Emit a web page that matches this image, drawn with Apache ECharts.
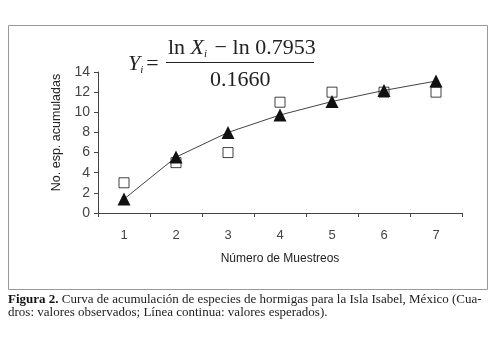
<!DOCTYPE html>
<html><head><meta charset="utf-8">
<script src="https://cdn.jsdelivr.net/npm/echarts@6/dist/echarts.min.js"></script>
<style>html,body{margin:0;padding:0;background:#fff}#c{width:499px;height:345px}</style>
</head><body><div id="c"></div>
<script>
const categories = ['1','2','3','4','5','6','7'];
const observed = [3, 5, 6, 11, 12, 12, 12];
const expected = [1.38, 5.55, 8.0, 9.73, 11.07, 12.17, 13.1];
const yTicks = {min: 0, max: 14, interval: 2};

const chart = echarts.init(document.getElementById('c'), null, {renderer: 'canvas'});
const serif = '"Liberation Serif","Times New Roman",serif';
const sans = 'Arial, "Liberation Sans"';
chart.setOption({
  animation: false,
  backgroundColor: '#fff',
  grid: {left: 98, top: 72, right: 37, bottom: 132, containLabel: false},
  xAxis: {
    type: 'category', data: categories, boundaryGap: true,
    name: 'Número de Muestreos', nameLocation: 'middle', nameGap: 40,
    nameTextStyle: {fontFamily: sans, fontSize: 12, color: '#222'},
    axisLine: {lineStyle: {color: '#444', width: 1}},
    axisTick: {show: true, length: 4, inside: false, lineStyle: {color: '#444'}},
    axisLabel: {fontFamily: sans, fontSize: 13, color: '#444', margin: 16}
  },
  yAxis: {
    type: 'value', min: yTicks.min, max: yTicks.max, interval: yTicks.interval,
    name: 'No. esp. acumuladas', nameLocation: 'middle', nameGap: 30, nameRotate: 90,
    nameTextStyle: {fontFamily: sans, fontSize: 12.5, color: '#222', padding: [0, 0, 0, 20]},
    axisLine: {show: true, lineStyle: {color: '#444', width: 1}},
    axisTick: {show: true, length: 4, lineStyle: {color: '#444'}},
    splitLine: {show: false},
    axisLabel: {fontFamily: sans, fontSize: 14, color: '#444', margin: 8}
  },
  series: [
    {type: 'line', name: 'esperados', data: expected, symbol: 'triangle', symbolSize: 13,
     itemStyle: {color: '#111'}, lineStyle: {color: '#444', width: 1}, z: 3},
    {type: 'scatter', name: 'observados', data: observed, symbol: 'rect', symbolSize: 10,
     itemStyle: {color: '#fff', borderColor: '#111', borderWidth: 1}, z: 2}
  ],
  graphic: [
    {type: 'rect', shape: {x: 8.5, y: 25.5, width: 479, height: 264}, style: {fill: 'none', stroke: '#999', lineWidth: 1}, z: -1},
    {type: 'text', left: 128, top: 53, style: {text: '{i|Y}{s|i}{e|=}', rich: {
      i: {fontFamily: serif, fontSize: 22, fontStyle: 'italic', fill: '#222'},
      s: {fontFamily: serif, fontSize: 11, fontStyle: 'italic', fill: '#222', verticalAlign: 'bottom', padding: [12, 3, 0, 0]},
      e: {fontFamily: serif, fontSize: 22, fill: '#222'}
    }, fontFamily: serif, fontSize: 22, fill: '#222'}},
    {type: 'text', left: 168, top: 37, style: {text: 'ln {i|X}{s|i} − ln 0.7953', rich: {
      i: {fontFamily: serif, fontSize: 22, fontStyle: 'italic', fill: '#222'},
      s: {fontFamily: serif, fontSize: 11, fontStyle: 'italic', fill: '#222', verticalAlign: 'bottom', padding: [12, 2, 0, 0]}
    }, fontFamily: serif, fontSize: 22, fill: '#222'}},
    {type: 'line', shape: {x1: 166, y1: 62.5, x2: 314, y2: 62.5}, style: {stroke: '#222', lineWidth: 1}},
    {type: 'text', left: 210, top: 69, style: {text: '0.1660', fontFamily: serif, fontSize: 22, fill: '#222'}},
    {type: 'text', left: 8, top: 293, style: {text: '{b|Figura 2.} Curva de acumulación de especies de hormigas para la Isla Isabel, México (Cua-\ndros: valores observados; Línea continua: valores esperados).', rich: {
      b: {fontFamily: serif, fontSize: 13, fontWeight: 'bold', fill: '#111'}
    }, fontFamily: serif, fontSize: 13, fill: '#222', lineHeight: 13}}
  ]
});
</script></body></html>
